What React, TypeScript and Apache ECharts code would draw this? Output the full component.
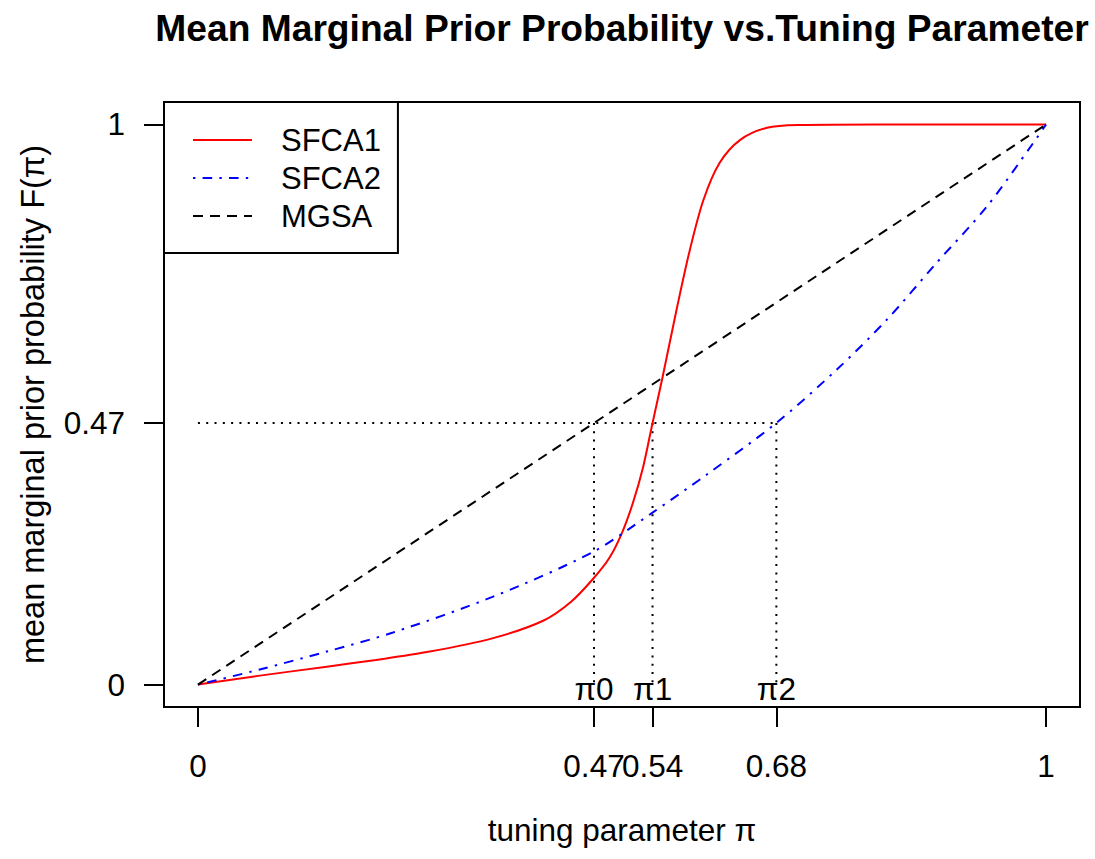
import React, { useEffect, useRef } from "react";
import * as echarts from "echarts";

const FONT = "'Liberation Sans', Arial, Helvetica, sans-serif";

// tuning parameter values and mean marginal prior probabilities
const sfca1Pi = [0, 0.073, 0.152, 0.21, 0.27, 0.348, 0.407, 0.44, 0.466, 0.485, 0.5, 0.513, 0.525, 0.536, 0.548, 0.565, 0.58, 0.596, 0.615, 0.639, 0.671, 0.71, 0.8, 0.9, 1];
const sfca1F = [0, 0.016, 0.032, 0.044, 0.058, 0.083, 0.114, 0.148, 0.189, 0.226, 0.271, 0.325, 0.389, 0.467, 0.55, 0.674, 0.776, 0.865, 0.931, 0.972, 0.994, 0.999, 1, 1, 1];

const sfca2Pi = [0, 0.073, 0.152, 0.23, 0.348, 0.466, 0.536, 0.6, 0.682, 0.753, 0.812, 0.871, 0.93, 0.985, 1];
const sfca2F = [0, 0.027, 0.059, 0.093, 0.157, 0.237, 0.307, 0.375, 0.467, 0.562, 0.651, 0.753, 0.853, 0.967, 1];

const mgsaPi = [0, 1];
const mgsaF = [0, 1];

const level = 0.467; // common mean marginal prior probability
const piNames = ["π0", "π1", "π2"];
const piValues = [0.467, 0.536, 0.682];

const xTickValues = [0, 0.467, 0.536, 0.682, 1];
const xTickLabels = ["0", "0.47", "0.54", "0.68", "1"];
const yTickValues = [0, 0.467, 1];
const yTickLabels = ["0", "0.47", "1"];

const zip = (a: number[], b: number[]) => a.map((v, i) => [v, b[i]]);
const labelFor = (vals: number[], labels: string[]) => (v: number) => {
  let best = 0;
  for (let i = 1; i < vals.length; i++) if (Math.abs(vals[i] - v) < Math.abs(vals[best] - v)) best = i;
  return labels[best];
};

const AX = 31.5;

export default function App() {
  const ref = useRef<HTMLDivElement>(null);
  useEffect(() => {
    if (!ref.current) return;
    const chart = echarts.init(ref.current, undefined, { renderer: "svg" });
    const dotted = { color: "#000", width: 2, type: [2, 6.3] as any };
    const refSeries = [
      [[0, level], [piValues[2], level]],
      ...piValues.map((p) => [[p, level], [p, 0]]),
    ].map((d, i) => ({
      type: "line" as const,
      name: "ref" + i,
      data: d,
      symbol: "none",
      silent: true,
      lineStyle: dotted,
      z: 1,
    }));
    chart.setOption({
      animation: false,
      backgroundColor: "#fff",
      textStyle: { fontFamily: FONT },
      graphic: [
        {
          type: "text",
          x: 622,
          y: 28,
          style: {
            text: "Mean Marginal Prior Probability vs.Tuning Parameter",
            font: `bold 37.2px ${FONT}`,
            fill: "#000",
            textAlign: "center",
            textVerticalAlign: "middle",
          },
        },
      ],
      grid: {
        left: 164,
        right: 15,
        top: 102,
        bottom: 152,
        show: true,
        borderColor: "#000",
        borderWidth: 2,
        backgroundColor: "transparent",
      },
      legend: {
        orient: "vertical",
        left: 164,
        top: 102,
        data: ["SFCA1", "SFCA2", "MGSA"],
        itemWidth: 59,
        itemHeight: 38,
        itemGap: 0,
        padding: [19, 17, 18, 28],
        borderColor: "#000",
        borderWidth: 2,
        borderRadius: 0,
        backgroundColor: "#fff",
        itemStyle: { opacity: 0 },
        textStyle: { fontSize: 31, color: "#000", fontFamily: FONT, lineHeight: 38, padding: [0, 0, 0, 24] },
      },
      xAxis: {
        type: "value",
        min: -0.04,
        max: 1.04,
        name: "tuning parameter π",
        nameLocation: "middle",
        nameGap: 107,
        nameTextStyle: { fontSize: AX, color: "#000", fontFamily: FONT, lineHeight: 32 },
        axisLine: { show: false, onZero: false },
        splitLine: { show: false },
        axisTick: { show: true, length: 20, customValues: xTickValues, lineStyle: { color: "#000", width: 2 } },
        axisLabel: {
          customValues: xTickValues,
          formatter: labelFor(xTickValues, xTickLabels),
          margin: 43,
          fontSize: AX,
          color: "#000",
          fontFamily: FONT,
          lineHeight: 32,
          hideOverlap: false,
        },
      },
      yAxis: {
        type: "value",
        min: -0.04,
        max: 1.04,
        name: "mean marginal prior probability F(π)",
        nameLocation: "middle",
        nameGap: 115,
        nameRotate: 90,
        nameTextStyle: { fontSize: 32.5, color: "#000", fontFamily: FONT, lineHeight: 32 },
        axisLine: { show: false, onZero: false },
        splitLine: { show: false },
        axisTick: { show: true, length: 20, customValues: yTickValues, lineStyle: { color: "#000", width: 2 } },
        axisLabel: {
          customValues: yTickValues,
          formatter: labelFor(yTickValues, yTickLabels),
          margin: 39,
          fontSize: AX,
          color: "#000",
          fontFamily: FONT,
        },
      },
      series: [
        {
          type: "line",
          name: "SFCA1",
          data: zip(sfca1Pi, sfca1F),
          symbol: "none",
          smooth: 0.3,
          lineStyle: { color: "#ff0000", width: 2 },
          itemStyle: { color: "#ff0000" },
          z: 3,
        },
        {
          type: "line",
          name: "SFCA2",
          data: zip(sfca2Pi, sfca2F),
          symbol: "none",
          smooth: 0.3,
          lineStyle: { color: "#0000ff", width: 2, type: [2.4, 7.2, 9.6, 7.2] },
          itemStyle: { color: "#0000ff" },
          z: 3,
        },
        {
          type: "line",
          name: "MGSA",
          data: zip(mgsaPi, mgsaF),
          symbol: "none",
          lineStyle: { color: "#000", width: 2, type: [10, 7] },
          itemStyle: { color: "#000" },
          z: 3,
        },
        ...refSeries,
        {
          type: "scatter",
          name: "piLabels",
          data: piValues.map((p, i) => ({ value: [p, 0], name: piNames[i] })),
          symbolSize: 1,
          silent: true,
          itemStyle: { color: "rgba(0,0,0,0)", opacity: 1 },
          label: {
            show: true,
            position: "inside",
            formatter: (p: any) => p.name,
            fontSize: AX,
            color: "#000",
            opacity: 1,
            textBorderWidth: 0,
            fontFamily: FONT,
            offset: [0, 4],
          },
          z: 4,
        },
      ],
    });
    return () => chart.dispose();
  }, []);
  return (
    <div
      ref={ref}
      style={{ position: "fixed", left: 0, top: 0, width: 1095, height: 859, background: "#fff" }}
    />
  );
}
